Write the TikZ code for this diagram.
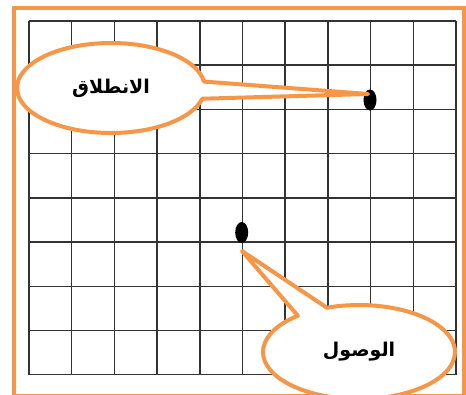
\documentclass[tikz,border=0pt]{standalone}
\usepackage{fontspec}
\usetikzlibrary{shapes.callouts,shapes.geometric}
\newfontfamily\arabicfont[Script=Arabic]{DejaVu Sans}
\TeXXeTstate=1
\definecolor{orangeC}{HTML}{F79646}
\begin{document}
\begin{tikzpicture}[x=1pt,y=-1pt,
  framebox/.style={draw=orangeC,line width=4pt},
  gridline/.style={draw=black!80,line width=1.5pt},
  dotshape/.style={ellipse,fill=black,inner sep=0pt,minimum width=13pt,minimum height=21pt},
  bubble/.style={ellipse callout,draw=orangeC,fill=white,line width=4pt,line join=round,
    callout pointer arc=22,font=\fontsize{19}{22}\arabicfont\bfseries\selectfont}]
\useasboundingbox (0,0) rectangle (466,394);
\fill[white] (0,0) rectangle (466,394);
\draw[framebox] (14.3,8.3) rectangle (463.7,395.5);
\foreach \i in {0,...,10} {
  \draw[gridline] ({29+\i*42.7},21) -- ({29+\i*42.7},374.7);
}
\foreach \j in {0,...,8} {
  \draw[gridline] (29,{21+\j*44.21}) -- (456,{21+\j*44.21});
}
\node[dotshape] (startdot) at (370,100) {};
\node[dotshape] (enddot) at (241.7,232.5) {};
\coordinate (starttip) at (368,94);
\coordinate (endtip) at (242,251);
\node[bubble,minimum width=188pt,minimum height=90pt,callout absolute pointer={(starttip)}] (startlbl) at (111,88) {\beginR الانطلاق\endR};
\node[bubble,minimum width=192pt,minimum height=94pt,callout absolute pointer={(endtip)},callout pointer arc=20] (endlbl) at (359,352) {\beginR الوصول\endR};
\end{tikzpicture}
\end{document}
